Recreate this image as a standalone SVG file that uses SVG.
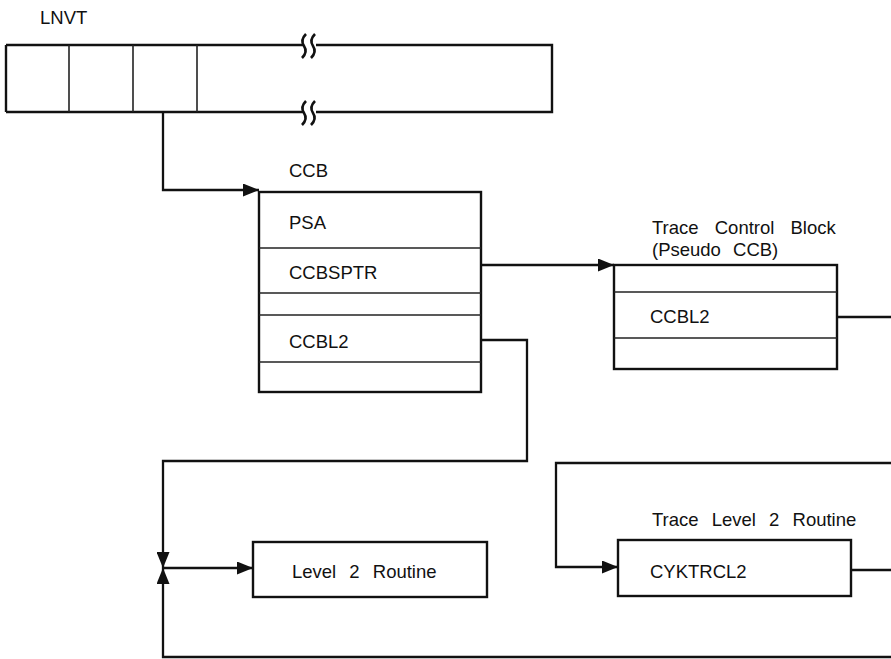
<svg xmlns="http://www.w3.org/2000/svg" width="891" height="659" viewBox="0 0 891 659">
<style>
.box{fill:#fff;stroke:#111;stroke-width:2.4}
.div{stroke:#222;stroke-width:1.6;fill:none}
.ln{stroke:#111;stroke-width:2.3;fill:none}
.t{font-family:"Liberation Sans",Arial,Helvetica,sans-serif;font-size:18.5px;fill:#111;word-spacing:8px}
</style>
<defs>
<marker id="ah" markerUnits="userSpaceOnUse" markerWidth="16" markerHeight="13" refX="16" refY="6.5" orient="auto">
<path d="M0,0 L16,6.5 L0,13 z" fill="#111"/>
</marker>
</defs>
<rect width="891" height="659" fill="#fff"/>

<g id="lnvt">
<text class="t" x="40" y="24">LNVT</text>
<path class="ln" d="M6,45 H304 M316,45 H552 V112 H316 M304,112 H6 Z" style="stroke-width:2.4"/>
<path class="ln" d="M6,45 V112" style="stroke-width:2.4"/>
<line class="div" x1="69" y1="45" x2="69" y2="112"/>
<line class="div" x1="133" y1="45" x2="133" y2="112"/>
<line class="div" x1="197" y1="45" x2="197" y2="112"/>
<path class="ln" d="M306,34 Q300,40 304,46 Q308,52 302,58 M315,34 Q309,40 313,46 Q317,52 311,58" style="stroke-width:2.6"/>
<path class="ln" d="M306,101 Q300,107 304,113 Q308,119 302,125 M315,101 Q309,107 313,113 Q317,119 311,125" style="stroke-width:2.6"/>
</g>

<g id="ccb">
<text class="t" x="289" y="177">CCB</text>
<rect class="box" x="259" y="192" width="222" height="200"/>
<line class="div" x1="259" y1="248" x2="481" y2="248"/>
<line class="div" x1="259" y1="293" x2="481" y2="293"/>
<line class="div" x1="259" y1="315" x2="481" y2="315"/>
<line class="div" x1="259" y1="362" x2="481" y2="362"/>
<text class="t" x="289" y="229">PSA</text>
<text class="t" x="289" y="279">CCBSPTR</text>
<text class="t" x="289" y="348">CCBL2</text>
</g>

<g id="tcb">
<text class="t" x="652" y="234" style="word-spacing:11px">Trace Control Block</text>
<text class="t" x="652" y="256" style="word-spacing:7px">(Pseudo CCB)</text>
<rect class="box" x="614" y="265" width="223" height="104"/>
<line class="div" x1="614" y1="292" x2="837" y2="292"/>
<line class="div" x1="614" y1="338" x2="837" y2="338"/>
<text class="t" x="650" y="323">CCBL2</text>
</g>

<g id="level2">
<rect class="box" x="253" y="542" width="234" height="55"/>
<text class="t" x="292" y="578">Level 2 Routine</text>
</g>

<g id="tracelevel2">
<text class="t" x="652" y="526">Trace Level 2 Routine</text>
<rect class="box" x="618" y="540" width="233" height="56"/>
<text class="t" x="650" y="578">CYKTRCL2</text>
</g>

<g id="connectors">
<path class="ln" d="M163,112 V190 H259" marker-end="url(#ah)"/>
<path class="ln" d="M481,265 H614" marker-end="url(#ah)"/>
<path class="ln" d="M481,340 H527 V461 H163 V568" marker-end="url(#ah)"/>
<path class="ln" d="M891,657 H163 V568" marker-end="url(#ah)"/>
<path class="ln" d="M163,568 H253" marker-end="url(#ah)"/>
<path class="ln" d="M837,317 H891"/>
<path class="ln" d="M891,463 H556 V567 H618" marker-end="url(#ah)"/>
<path class="ln" d="M851,570 H891"/>
</g>
</svg>
